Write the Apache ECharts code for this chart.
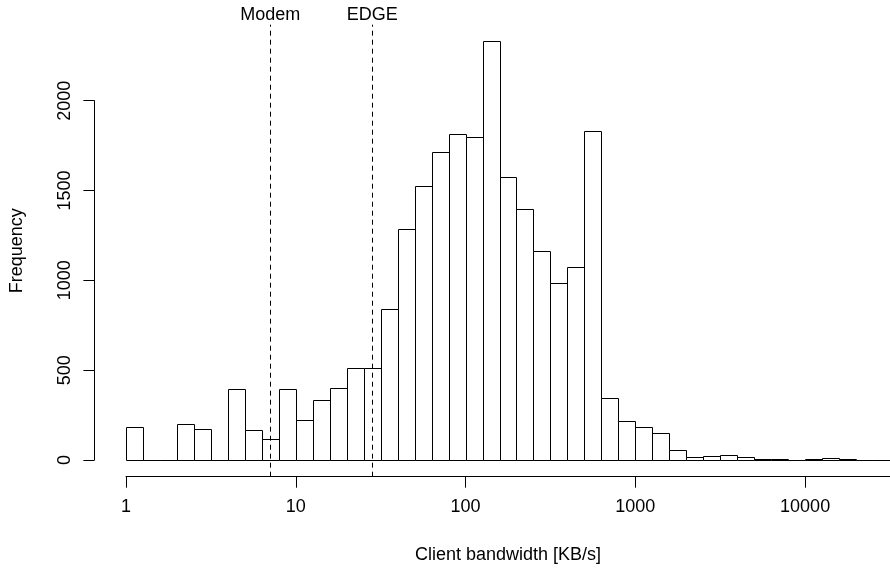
<!DOCTYPE html>
<html>
<head>
<meta charset="utf-8">
<script src="https://cdn.jsdelivr.net/npm/echarts@6/dist/echarts.min.js"></script>
<style>
html,body{margin:0;padding:0;background:#fff;}
#chart{width:890px;height:570px;}
</style>
</head>
<body>
<div id="chart"></div>
<script>
// Histogram bins: lower edge in log10(KB/s), width 0.1 decade
const binLow = [0.0,0.1,0.2,0.3,0.4,0.5,0.6,0.7,0.8,0.9,
                1.0,1.1,1.2,1.3,1.4,1.5,1.6,1.7,1.8,1.9,
                2.0,2.1,2.2,2.3,2.4,2.5,2.6,2.7,2.8,2.9,
                3.0,3.1,3.2,3.3,3.4,3.5,3.6,3.7,3.8,3.9,
                4.0,4.1,4.2,4.3,4.4];
const binWidth = 0.1;
const counts = [184,0,0,199,173,0,394,165,119,394,
                224,336,402,514,514,839,1284,1527,1714,1816,
                1800,2329,1572,1395,1162,985,1076,1828,345,215,
                186,148,54,15,21,30,15,4,3,2,
                4,9,4,2,2];
// Reference lines (KB/s)
const refNames = ['Modem','EDGE'];
const refValues = [7, 28.5];
// Tick labels
const xTickValues = [0,1,2,3,4];
const xTickLabels = ['1','10','100','1000','10000'];
const yTickValues = [0,500,1000,1500,2000];
const yTickLabels = ['0','500','1000','1500','2000'];

const FONT = 'Liberation Sans';
const FS = 18;

const chart = echarts.init(document.getElementById('chart'), null, {renderer:'canvas'});

const barData = binLow.map((lo,i)=>[lo, lo+binWidth, counts[i]]);
const yMax = Math.max(...counts);
const yPad = yMax*0.04;

const option = {
  backgroundColor:'#ffffff',
  animation:false,
  textStyle:{fontFamily:FONT, fontSize:FS, color:'#000'},
  grid:[
    {left:125, right:0, top:24.7, bottom:93.3, containLabel:false},
    {left:94.4, width:20, top:100.7, bottom:110, containLabel:false}
  ],
  xAxis:[
    {type:'value', gridIndex:0, min:0, max:4.5,
     axisLine:{show:true, onZero:false, lineStyle:{color:'#000', width:1}},
     axisTick:{show:true, length:11, customValues:xTickValues, lineStyle:{color:'#000', width:1}},
     axisLabel:{show:true, customValues:xTickValues, margin:21, fontFamily:FONT, fontSize:FS, color:'#000',
       formatter:v=>{const k=xTickValues.indexOf(v); return k>=0?xTickLabels[k]:'';}},
     splitLine:{show:false},
     name:'Client bandwidth [KB/s]', nameLocation:'middle', nameGap:69,
     nameTextStyle:{fontFamily:FONT, fontSize:FS, color:'#000'}},
    {type:'value', gridIndex:1, show:false, min:0, max:1}
  ],
  yAxis:[
    {type:'value', gridIndex:0, min:-yPad, max:yMax+yPad,
     axisLine:{show:false}, axisTick:{show:false}, axisLabel:{show:false}, splitLine:{show:false},
     name:'Frequency', nameLocation:'middle', nameGap:100,
     nameTextStyle:{fontFamily:FONT, fontSize:FS, color:'#000'}},
    {type:'value', gridIndex:1, min:0, max:2000, interval:500,
     axisLine:{show:true, lineStyle:{color:'#000', width:1}},
     axisTick:{show:true, length:11, lineStyle:{color:'#000', width:1}},
     axisLabel:{show:true, rotate:90, margin:20, fontFamily:FONT, fontSize:FS, color:'#000',
       formatter:v=>{const k=yTickValues.indexOf(v); return k>=0?yTickLabels[k]:'';}},
     splitLine:{show:false}}
  ],
  series:[
    {type:'custom', xAxisIndex:0, yAxisIndex:0,
     data:barData,
     encode:{x:[0,1], y:2},
     renderItem:function(params, api){
       const p1 = api.coord([api.value(0), api.value(2)]);
       const p2 = api.coord([api.value(1), 0]);
       const x1 = Math.round(p1[0])+0.5, x2 = Math.round(p2[0])+0.5;
       const y1 = Math.round(p1[1])+0.5, y2 = Math.round(p2[1])+0.5;
       return {type:'rect', shape:{x:x1, y:y1, width:x2-x1, height:y2-y1},
               style:{fill:'#ffffff', stroke:'#000000', lineWidth:1}};
     },
     markLine:{
       silent:true, symbol:'none', animation:false,
       lineStyle:{color:'#000', type:[5,4], width:1},
       label:{show:true, position:'end', distance:1, formatter:p=>p.name,
              fontFamily:FONT, fontSize:FS, color:'#000'},
       data:refValues.map((v,i)=>({name:refNames[i], xAxis:Math.log10(v)}))
     }
    }
  ]
};
chart.setOption(option);
</script>
</body>
</html>
